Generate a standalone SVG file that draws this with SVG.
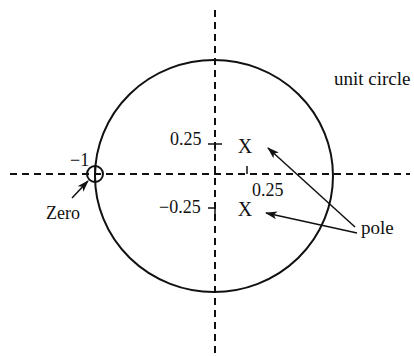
<svg xmlns="http://www.w3.org/2000/svg" width="414" height="356" viewBox="0 0 414 356">
<defs>
<marker id="ah" viewBox="0 0 12 8" refX="11" refY="4" markerWidth="12" markerHeight="8" markerUnits="userSpaceOnUse" orient="auto">
<path d="M0,0 L12,4 L0,8 L3,4 Z" fill="#111"/>
</marker>
<style>
text { font-family: "Liberation Serif", "Times New Roman", serif; fill: #111; }
.axis { stroke: #111; stroke-width: 2; stroke-dasharray: 7 5; fill: none; }
.line { stroke: #111; stroke-width: 1.5; fill: none; }
.arrow { stroke: #111; stroke-width: 1.5; fill: none; marker-end: url(#ah); }
</style>
</defs>
<rect width="414" height="356" fill="#fff"/>
<g id="axes">
<line class="axis" x1="10" y1="174" x2="410" y2="174"/>
<line class="axis" x1="215" y1="10" x2="215" y2="356"/>
</g>
<g id="unit-circle">
<ellipse cx="214" cy="176" rx="119" ry="116" fill="none" stroke="#111" stroke-width="2"/>
<text x="334" y="85" font-size="19">unit circle</text>
</g>
<g id="ticks">
<line class="line" x1="208" y1="144" x2="222" y2="144"/>
<line class="line" x1="215" y1="144" x2="215" y2="151"/>
<line class="line" x1="208" y1="208" x2="215" y2="208"/>
<line class="line" x1="215" y1="208" x2="215" y2="215"/>
<line class="line" x1="247" y1="166" x2="247" y2="174"/>
<text x="170" y="145" font-size="18">0.25</text>
<text x="159" y="213" font-size="18">−0.25</text>
<text x="252" y="196" font-size="18">0.25</text>
</g>
<g id="zero">
<circle cx="95" cy="174" r="8" fill="none" stroke="#111" stroke-width="2"/>
<line class="line" x1="95" y1="166" x2="95" y2="182"/>
<text x="70" y="166" font-size="18">−1</text>
<text x="46" y="219" font-size="18">Zero</text>
</g>
<g id="poles">
<text x="245" y="153" font-size="20" text-anchor="middle">X</text>
<text x="245" y="216" font-size="20" text-anchor="middle">X</text>
<text x="361" y="234" font-size="19">pole</text>
</g>
<g id="connectors">
<line class="arrow" x1="72" y1="198" x2="88" y2="181"/>
<line class="arrow" x1="355" y1="227" x2="268" y2="148"/>
<line class="arrow" x1="357" y1="233" x2="266" y2="213"/>
</g>
</svg>
